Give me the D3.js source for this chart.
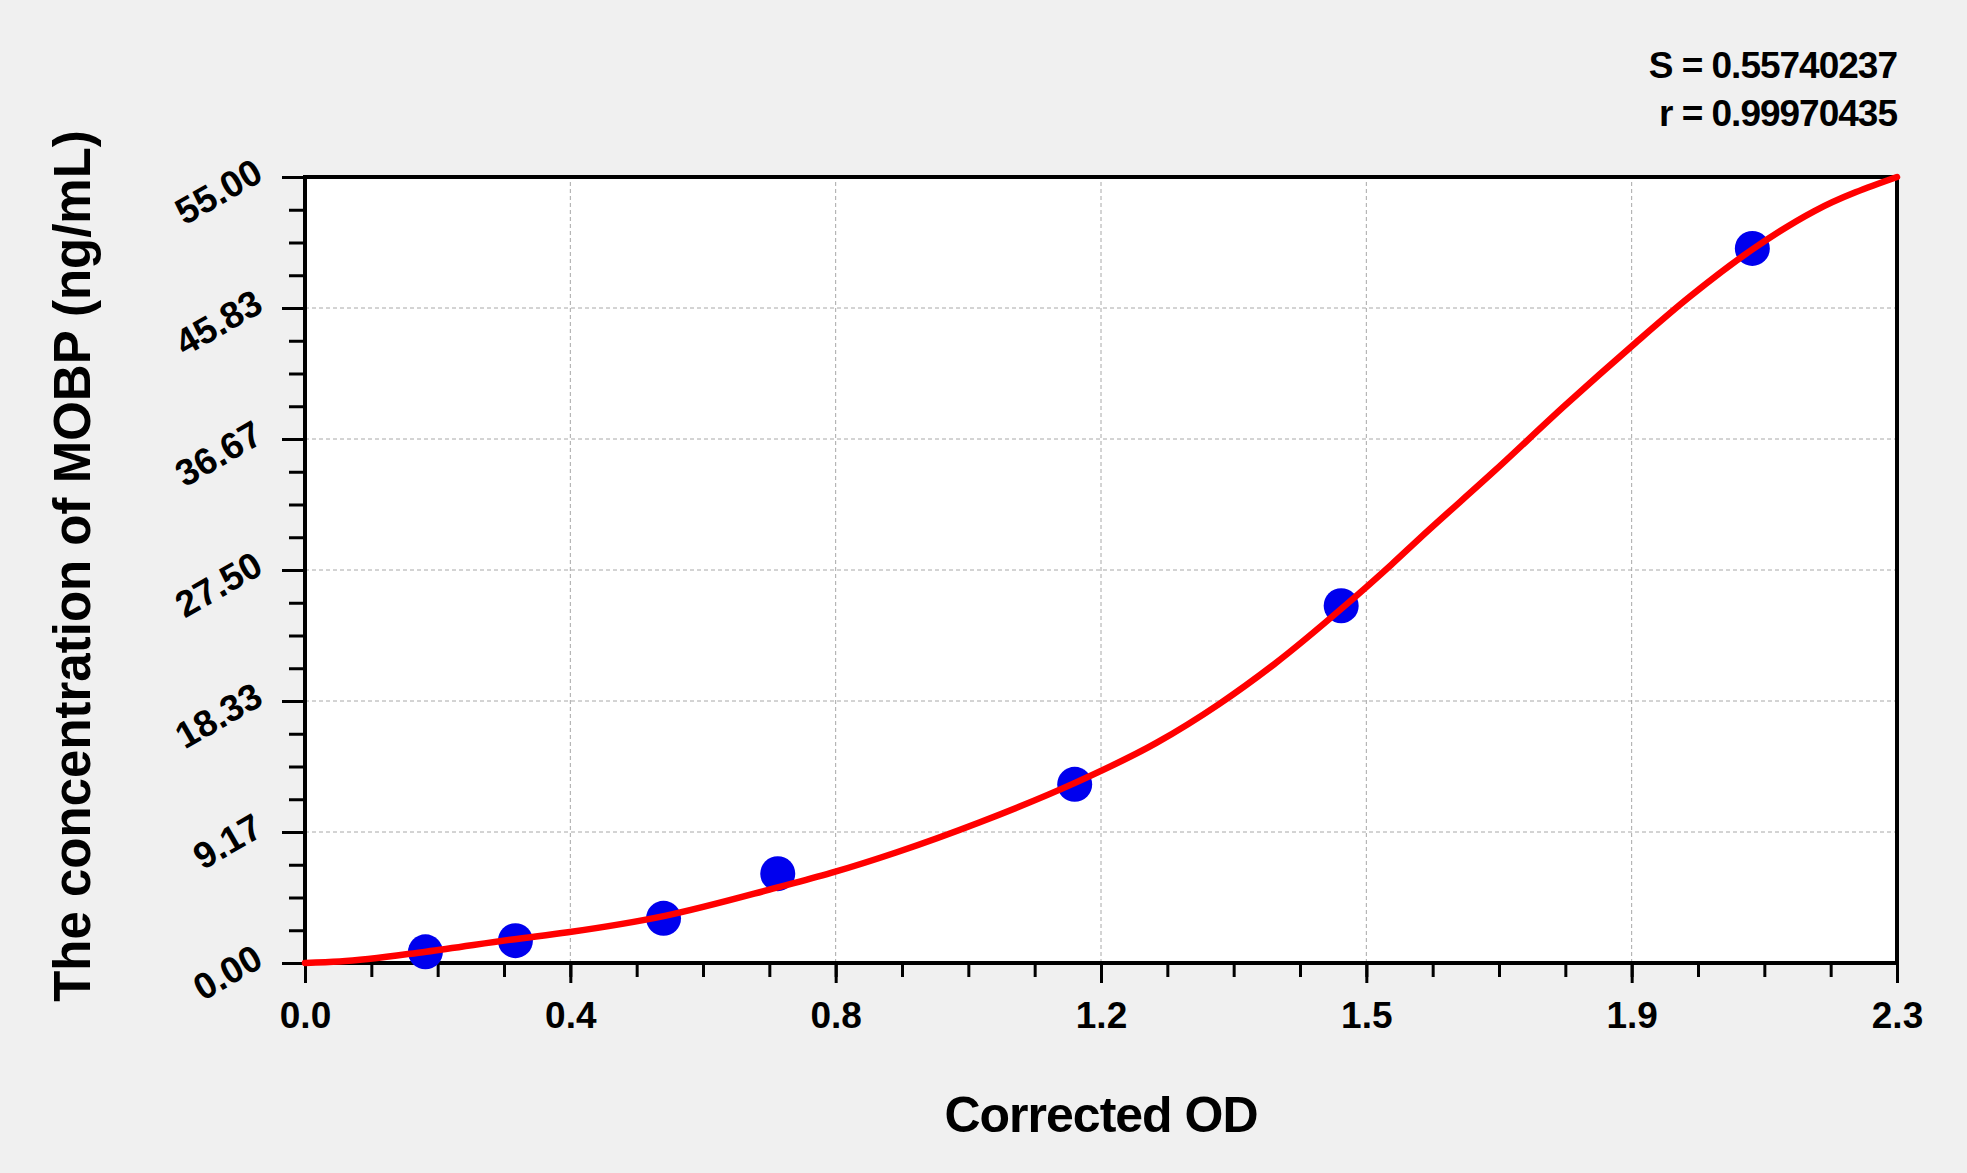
<!DOCTYPE html>
<html lang="en">
<head>
<meta charset="UTF-8">
<title>MOBP standard curve</title>
<script src="https://d3js.org/d3.v7.min.js"></script>
<style>
    body { margin: 0; background: #f0f0f0; font-family: "Liberation Sans", Arial, sans-serif; }
    svg { display: block; }
    .tick text { font-weight: bold; font-size: 37px; fill: #000; }
    .grid line { stroke: #a8a8a8; stroke-width: 1; stroke-dasharray: 4,3; }
    .lbl { font-weight: bold; fill: #000; }
</style>
</head>
<body>
<div id="chart"></div>
<script>
// standard points (corrected OD vs concentration)
const odValues   = [0.174, 0.304, 0.518, 0.683, 1.112, 1.497, 2.091];
const concValues = [0.78, 1.56, 3.125, 6.25, 12.5, 25, 50];

// fitted curve
const curveOD   = [0, 0.05, 0.175, 0.30, 0.38, 0.52, 0.68, 0.76, 0.855, 0.975, 1.11, 1.23, 1.32, 1.40, 1.50, 1.57, 1.61, 1.72, 1.82, 1.92, 2.00, 2.09, 2.18, 2.30];
const curveConc = [0, 0.1, 0.79, 1.65, 2.15, 3.3, 5.25, 6.3, 7.75, 9.85, 12.55, 15.4, 18.1, 20.9, 24.9, 27.9, 29.7, 34.5, 39.0, 43.3, 46.6, 49.9, 52.6, 55.0];

const xTickLabels = ["0.0", "0.4", "0.8", "1.2", "1.5", "1.9", "2.3"];
const yTickLabels = ["0.00", "9.17", "18.33", "27.50", "36.67", "45.83", "55.00"];
const statLines = ["S = 0.55740237", "r = 0.99970435"];

const W = 1967, H = 1173;
const margin = { left: 305, right: 70, top: 177, bottom: 210 };
const xMax = 2.3, yMax = 55;

const svg = d3.select("#chart").append("svg")
    .attr("width", W)
    .attr("height", H);

const x = d3.scaleLinear().domain([0, xMax]).range([margin.left, W - margin.right]);
const y = d3.scaleLinear().domain([0, yMax]).range([H - margin.bottom, margin.top]);

const xMajor = xTickLabels.map((d, i) => i * xMax / (xTickLabels.length - 1));
const yMajor = yTickLabels.map((d, i) => i * yMax / (yTickLabels.length - 1));
const xMinor = d3.range(0, 25).map(i => i * xMax / 24);
const yMinor = d3.range(0, 25).map(i => i * yMax / 24);

// plot background
svg.append("rect")
    .attr("x", x(0)).attr("y", y(yMax))
    .attr("width", x(xMax) - x(0)).attr("height", y(0) - y(yMax))
    .attr("fill", "#fff");

// grid
const grid = svg.append("g").attr("class", "grid");
grid.selectAll(".gx").data(xMajor).enter().append("line")
    .attr("x1", d => x(d)).attr("x2", d => x(d))
    .attr("y1", y(0)).attr("y2", y(yMax));
grid.selectAll(".gy").data(yMajor).enter().append("line")
    .attr("x1", x(0)).attr("x2", x(xMax))
    .attr("y1", d => y(d)).attr("y2", d => y(d));

// minor ticks
svg.append("g")
    .attr("transform", `translate(0,${y(0)})`)
    .call(d3.axisBottom(x).tickValues(xMinor).tickSize(14).tickSizeOuter(0).tickFormat(""))
    .call(g => g.select(".domain").remove())
    .call(g => g.selectAll("line").attr("stroke", "#000").attr("stroke-width", 3));
svg.append("g")
    .attr("transform", `translate(${x(0)},0)`)
    .call(d3.axisLeft(y).tickValues(yMinor).tickSize(16).tickSizeOuter(0).tickFormat(""))
    .call(g => g.select(".domain").remove())
    .call(g => g.selectAll("line").attr("stroke", "#000").attr("stroke-width", 3));

// major ticks + labels
svg.append("g")
    .attr("transform", `translate(0,${y(0)})`)
    .call(d3.axisBottom(x).tickValues(xMajor).tickSize(20).tickSizeOuter(0)
        .tickFormat((d, i) => xTickLabels[i]))
    .call(g => g.select(".domain").remove())
    .call(g => g.selectAll("line").attr("stroke", "#000").attr("stroke-width", 3))
    .call(g => g.selectAll("text").attr("y", 65).attr("dy", 0).attr("font-family", null));

svg.append("g")
    .attr("transform", `translate(${x(0)},0)`)
    .call(d3.axisLeft(y).tickValues(yMajor).tickSize(23).tickSizeOuter(0)
        .tickFormat((d, i) => yTickLabels[i]))
    .call(g => g.select(".domain").remove())
    .call(g => g.selectAll("line").attr("stroke", "#000").attr("stroke-width", 3))
    .call(g => g.selectAll("text")
        .attr("x", -40).attr("y", 2).attr("dy", 0)
        .attr("font-family", null)
        .attr("text-anchor", "end")
        .attr("transform", "rotate(-30 -40 2)"));

// frame
svg.append("rect")
    .attr("x", x(0)).attr("y", y(yMax))
    .attr("width", x(xMax) - x(0)).attr("height", y(0) - y(yMax))
    .attr("fill", "none").attr("stroke", "#000").attr("stroke-width", 4);

// standards
svg.append("g").selectAll("circle")
    .data(odValues).enter().append("circle")
    .attr("cx", d => x(d))
    .attr("cy", (d, i) => y(concValues[i]))
    .attr("r", 17.5)
    .attr("fill", "#0000ee");

// fitted curve
const line = d3.line()
    .x(d => x(d[0]))
    .y(d => y(d[1]))
    .curve(d3.curveMonotoneX);
svg.append("path")
    .datum(curveOD.map((d, i) => [d, curveConc[i]]))
    .attr("d", line)
    .attr("fill", "none")
    .attr("stroke", "#f00")
    .attr("stroke-width", 6.5)
    .attr("stroke-linecap", "round")
    .attr("stroke-linejoin", "round");

// axis titles
svg.append("text").attr("class", "lbl")
    .attr("x", (x(0) + x(xMax)) / 2).attr("y", 1132)
    .attr("text-anchor", "middle")
    .attr("font-size", 50)
    .attr("letter-spacing", -1)
    .text("Corrected OD");

svg.append("text").attr("class", "lbl")
    .attr("transform", `translate(90,${(y(0) + y(yMax)) / 2 - 4}) rotate(-90)`)
    .attr("text-anchor", "middle")
    .attr("font-size", 51)
    .text("The concentration of MOBP (ng/mL)");

// fit statistics
svg.append("g").selectAll("text")
    .data(statLines).enter().append("text").attr("class", "lbl")
    .attr("x", x(xMax))
    .attr("y", (d, i) => 78 + i * 48)
    .attr("text-anchor", "end")
    .attr("font-size", 37)
    .attr("letter-spacing", -1)
    .text(d => d);
</script>
</body>
</html>
